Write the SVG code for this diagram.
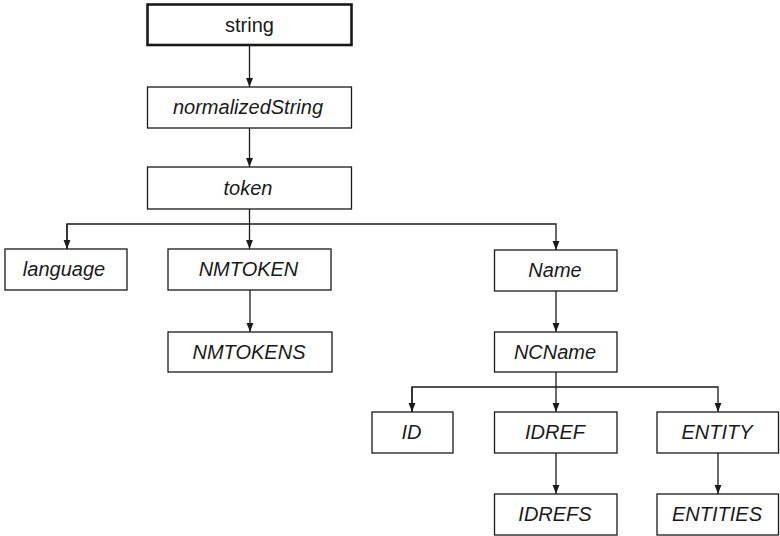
<svg xmlns="http://www.w3.org/2000/svg" width="780" height="536" viewBox="0 0 780 536">
<defs>
<marker id="ah" viewBox="0 0 10 10" refX="10" refY="5" markerWidth="9" markerHeight="9" markerUnits="userSpaceOnUse" orient="auto">
<path d="M0,1.2 L10,5 L0,8.8 z" fill="#1a1a1a"/>
</marker>
</defs>
<style>
.box{fill:#fff;stroke:#1a1a1a;stroke-width:1.3}
.root{fill:#fff;stroke:#1a1a1a;stroke-width:2.6}
.t{font-family:"Liberation Sans",Arial,sans-serif;font-size:20px;font-style:italic;fill:#1a1a1a;text-anchor:middle}
.n{font-style:normal}
.c{fill:none;stroke:#1a1a1a;stroke-width:1.3}
</style>
<rect width="780" height="536" fill="#fff"/>
<g id="connectors">
<path class="c" d="M249.5,45.5 V87" marker-end="url(#ah)"/>
<path class="c" d="M249.5,128 V167" marker-end="url(#ah)"/>
<path class="c" d="M249.5,209 V249" marker-end="url(#ah)"/>
<path class="c" d="M67,249 V224 H556 V250" marker-end="url(#ah)"/>
<path class="c" d="M67,224 V249" marker-end="url(#ah)"/>
<path class="c" d="M250,290 V332" marker-end="url(#ah)"/>
<path class="c" d="M556,291 V332" marker-end="url(#ah)"/>
<path class="c" d="M556,372 V412" marker-end="url(#ah)"/>
<path class="c" d="M412,412 V387 H718 V412" marker-end="url(#ah)"/>
<path class="c" d="M412,387 V412" marker-end="url(#ah)"/>
<path class="c" d="M556,453 V494" marker-end="url(#ah)"/>
<path class="c" d="M718,453 V494" marker-end="url(#ah)"/>
</g>
<g id="string"><rect class="root" x="147.5" y="4.5" width="204" height="40.5"/><text class="t n" x="249.5" y="31.5">string</text></g>
<g id="normalizedString"><rect class="box" x="147.5" y="87" width="204" height="41"/><text class="t" x="248" y="114">normalizedString</text></g>
<g id="token"><rect class="box" x="147.5" y="167" width="204" height="42"/><text class="t" x="248" y="194.5">token</text></g>
<g id="language"><rect class="box" x="5" y="249" width="122" height="41"/><text class="t" x="64" y="276">language</text></g>
<g id="NMTOKEN"><rect class="box" x="168" y="249" width="163" height="41"/><text class="t" x="248.5" y="276">NMTOKEN</text></g>
<g id="Name"><rect class="box" x="494.5" y="250" width="122.5" height="41"/><text class="t" x="555" y="277">Name</text></g>
<g id="NMTOKENS"><rect class="box" x="168" y="332" width="164" height="40"/><text class="t" x="249" y="358.5">NMTOKENS</text></g>
<g id="NCName"><rect class="box" x="494.5" y="332" width="122.5" height="40"/><text class="t" x="555" y="358.5">NCName</text></g>
<g id="ID"><rect class="box" x="372" y="412" width="81" height="41"/><text class="t" x="411.5" y="439">ID</text></g>
<g id="IDREF"><rect class="box" x="494.5" y="412" width="122.5" height="41"/><text class="t" x="555" y="439">IDREF</text></g>
<g id="ENTITY"><rect class="box" x="657" y="412" width="121.5" height="41"/><text class="t" x="717" y="439">ENTITY</text></g>
<g id="IDREFS"><rect class="box" x="494.5" y="494" width="122.5" height="41"/><text class="t" x="555" y="521">IDREFS</text></g>
<g id="ENTITIES"><rect class="box" x="657" y="494" width="121.5" height="41"/><text class="t" x="717" y="521">ENTITIES</text></g>
</svg>
